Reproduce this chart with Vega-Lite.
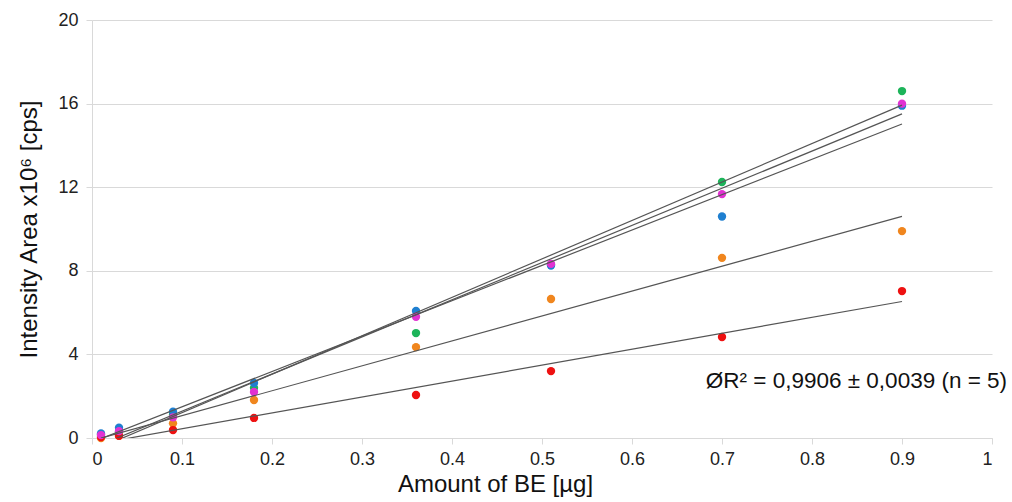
{
  "$schema": "https://vega.github.io/schema/vega-lite/v6.json",
  "autosize": "none",
  "width": 900,
  "height": 418,
  "padding": {"left": 92, "top": 20, "right": 20, "bottom": 64},
  "background": "white",
  "config": {
    "font": "Liberation Sans",
    "view": {"stroke": null},
    "axis": {"labelFont": "Liberation Sans", "titleFont": "Liberation Sans", "labelColor": "#222", "titleColor": "#111", "titleFontWeight": "normal"}
  },
  "datasets": {
    "pts": [
      {"x": 0.01, "y": 0.15, "s": "A"}, {"x": 0.03, "y": 0.30, "s": "A"}, {"x": 0.09, "y": 1.10, "s": "A"}, {"x": 0.18, "y": 2.40, "s": "A"}, {"x": 0.36, "y": 5.02, "s": "A"}, {"x": 0.51, "y": 8.30, "s": "A"}, {"x": 0.7, "y": 12.25, "s": "A"}, {"x": 0.9, "y": 16.6, "s": "A"},
      {"x": 0.01, "y": 0.22, "s": "B"}, {"x": 0.03, "y": 0.49, "s": "B"}, {"x": 0.09, "y": 1.26, "s": "B"}, {"x": 0.18, "y": 2.63, "s": "B"}, {"x": 0.36, "y": 6.08, "s": "B"}, {"x": 0.51, "y": 8.25, "s": "B"}, {"x": 0.7, "y": 10.6, "s": "B"}, {"x": 0.9, "y": 15.9, "s": "B"},
      {"x": 0.01, "y": 0.0, "s": "C"}, {"x": 0.03, "y": 0.11, "s": "C"}, {"x": 0.09, "y": 0.70, "s": "C"}, {"x": 0.18, "y": 1.82, "s": "C"}, {"x": 0.36, "y": 4.35, "s": "C"}, {"x": 0.51, "y": 6.65, "s": "C"}, {"x": 0.7, "y": 8.62, "s": "C"}, {"x": 0.9, "y": 9.9, "s": "C"},
      {"x": 0.01, "y": 0.05, "s": "D"}, {"x": 0.03, "y": 0.10, "s": "D"}, {"x": 0.09, "y": 0.38, "s": "D"}, {"x": 0.18, "y": 0.96, "s": "D"}, {"x": 0.36, "y": 2.06, "s": "D"}, {"x": 0.51, "y": 3.20, "s": "D"}, {"x": 0.7, "y": 4.83, "s": "D"}, {"x": 0.9, "y": 7.03, "s": "D"},
      {"x": 0.01, "y": 0.14, "s": "E"}, {"x": 0.03, "y": 0.33, "s": "E"}, {"x": 0.09, "y": 0.99, "s": "E"}, {"x": 0.18, "y": 2.20, "s": "E"}, {"x": 0.36, "y": 5.80, "s": "E"}, {"x": 0.51, "y": 8.33, "s": "E"}, {"x": 0.7, "y": 11.67, "s": "E"}, {"x": 0.9, "y": 16.0, "s": "E"}
    ],
    "note": [{"x": 0.682, "y": 2.75, "t": "ØR² = 0,9906 ± 0,0039 (n = 5)"}]
  },
  "layer": [
    {
      "data": {"name": "pts"},
      "mark": {"type": "circle", "size": 70, "opacity": 1},
      "encoding": {
        "x": {"field": "x", "type": "quantitative", "scale": {"domain": [0, 1], "nice": false},
          "axis": {"title": "Amount of BE [µg]", "titleFontSize": 24, "titlePadding": 4, "titleX": 403, "titleAlign": "center", "labelFontSize": 18, "format": "~g", "values": [0, 0.1, 0.2, 0.3, 0.4, 0.5, 0.6, 0.7, 0.8, 0.9, 1], "labelOverlap": false, "labelBound": false, "grid": false, "domainColor": "#d9d9d9", "tickColor": "#d9d9d9", "tickSize": 6, "labelPadding": 6}},
        "y": {"field": "y", "type": "quantitative", "scale": {"domain": [0, 20], "nice": false},
          "axis": {"title": "Intensity Area x10⁶ [cps]", "titleFontSize": 24, "titlePadding": 16, "labelFontSize": 18, "values": [0, 4, 8, 12, 16, 20], "labelOverlap": false, "grid": true, "gridColor": "#d9d9d9", "domainColor": "#d9d9d9", "tickColor": "#d9d9d9", "tickSize": 6, "labelPadding": 8}},
        "color": {"field": "s", "type": "nominal", "legend": null,
          "scale": {"domain": ["A", "B", "C", "D", "E"], "range": ["#1db45a", "#1f7fd0", "#f0861e", "#ee1111", "#e232d2"]}},
        "order": {"field": "s"}
      }
    },
    {
      "data": {"name": "pts"},
      "transform": [{"regression": "y", "on": "x", "groupby": ["s"], "extent": [0.01, 0.9]}],
      "mark": {"type": "line", "color": "#555555", "strokeWidth": 1.2, "clip": true},
      "encoding": {
        "x": {"field": "x", "type": "quantitative"},
        "y": {"field": "y", "type": "quantitative"},
        "detail": {"field": "s"}
      }
    },
    {
      "data": {"name": "note"},
      "mark": {"type": "text", "align": "left", "baseline": "middle", "fontSize": 22.5, "color": "#111"},
      "encoding": {
        "x": {"field": "x", "type": "quantitative"},
        "y": {"field": "y", "type": "quantitative"},
        "text": {"field": "t"}
      }
    }
  ]
}
